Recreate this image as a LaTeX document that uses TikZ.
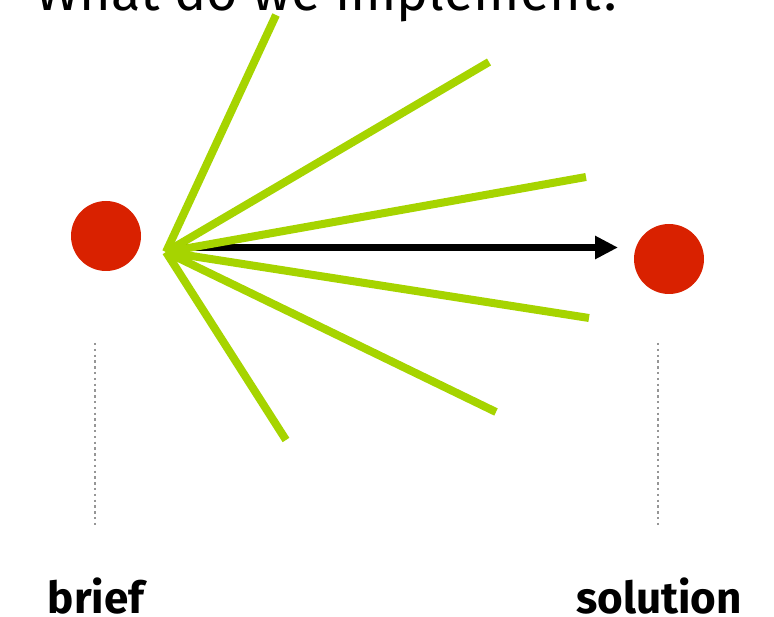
\documentclass[tikz,border=0pt]{standalone}
\usepackage{fontspec}
\setmainfont{Fira Sans}
\usetikzlibrary{arrows.meta}
\definecolor{dotred}{RGB}{217,33,0}
\definecolor{fangreen}{RGB}{166,212,0}
\definecolor{dotgray}{RGB}{150,150,150}
\tikzset{
  dot/.style={circle,fill=dotred,draw=none,minimum size=70pt,inner sep=0pt},
  ray/.style={draw=fangreen,line width=8pt},
  guide/.style={draw=dotgray,line width=2.6pt,dash pattern=on 2.4pt off 3.4pt},
  lbl/.style={font=\fontsize{44}{48}\selectfont\bfseries,inner sep=0pt},
}
\begin{document}
\begin{tikzpicture}[x=1pt,y=-1pt]
\useasboundingbox (0,0) rectangle (774,617);
\node[anchor=base west,inner sep=0pt,font=\fontsize{54}{58}\selectfont] (title) at (35,11) {What do we implement?};
\node[dot] (brief) at (106,236) {};
\node[dot] (solution) at (669,259) {};
\coordinate (o) at (166,252);
\coordinate (r1) at (276,15);
\coordinate (r2) at (489,62);
\coordinate (r3) at (586,177);
\coordinate (r4) at (589,318);
\coordinate (r5) at (496,412);
\coordinate (r6) at (286,440);
\coordinate (as) at (168,247.5);
\coordinate (ae) at (618,247.5);
\draw[line width=7pt,-{Triangle[length=23pt,width=22pt]}] (as) -- (ae);
\foreach \r in {r1,r2,r3,r4,r5,r6} \draw[ray] (o) -- (\r);
\coordinate (g1a) at (95,343);
\coordinate (g1b) at (95,526);
\coordinate (g2a) at (658,343);
\coordinate (g2b) at (658,526);
\draw[guide] (g1a) -- (g1b);
\draw[guide] (g2a) -- (g2b);
\node[lbl,anchor=base] (lb) at (96,613) {brief};
\node[lbl,anchor=base] (ls) at (659,613) {solution};
\end{tikzpicture}
\end{document}
